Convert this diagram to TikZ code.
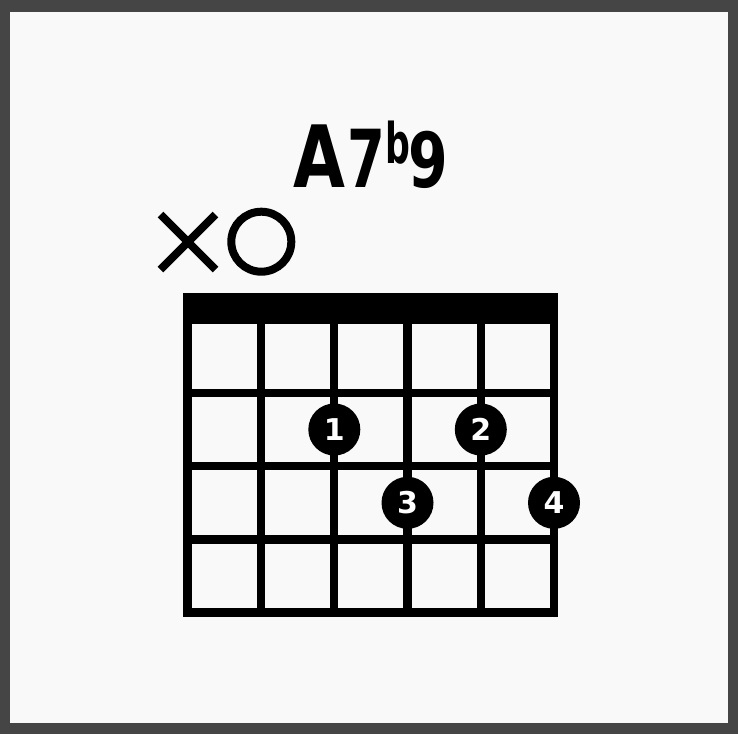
\documentclass[tikz,border=0pt]{standalone}
\usepackage{fontspec}
\setmainfont{DejaVu Sans}
\definecolor{framegray}{HTML}{454545}
\definecolor{bggray}{HTML}{F9F9F9}
\begin{document}
\begin{tikzpicture}[x=1pt,y=-1pt,
  gridline/.style={line width=8.5pt, line cap=rect, black},
  fingerdot/.style={circle, fill=black, minimum size=52pt, inner sep=0pt, text=white,
    font=\fontsize{30}{30}\selectfont\bfseries},
  titlechar/.style={anchor=base, inner sep=0pt, font=\bfseries},
  marker/.style={line width=8pt, black}]
\useasboundingbox (0,0) rectangle (738,734);
\fill[framegray] (0,0) rectangle (738,734);
\fill[bggray] (10,12) rectangle (728.3,723.3);
% title
\node[titlechar] (tA) at (319,187) {\fontsize{86}{86}\selectfont\scalebox{0.78}[1]{A}};
\node[titlechar] (t7) at (366,187) {\fontsize{80}{80}\selectfont\scalebox{0.68}[1]{7}};
\node[titlechar] (tb) at (397.5,163) {\fontsize{56}{56}\selectfont\scalebox{0.62}[1]{b}};
\node[titlechar] (t9) at (428,187) {\fontsize{76}{76}\selectfont\scalebox{0.75}[1]{9}};
% X and O markers
\draw[marker] (160.5,214.5) -- (215.5,269.5) (215.5,214.5) -- (160.5,269.5);
\node[draw, marker, circle, minimum size=60pt, inner sep=0pt] (open2) at (261.3,241.7) {};
% nut
\fill[black] (183.3,292.7) rectangle (557.8,323.5);
% strings
\foreach \i in {0,...,5} {
  \draw[gridline] ({187.7+73.27*\i},320) -- ({187.7+73.27*\i},612.5);
}
% frets
\foreach \j in {0,...,3} {
  \draw[gridline] (187.7,{392.8+73.23*\j}) -- (554,{392.8+73.23*\j});
}
% finger dots
\node[fingerdot] (f1) at (334.3,429.5) {1};
\node[fingerdot] (f2) at (480.8,429.5) {2};
\node[fingerdot] (f3) at (407.5,502.8) {3};
\node[fingerdot] (f4) at (554,502.8) {4};
\end{tikzpicture}
\end{document}
